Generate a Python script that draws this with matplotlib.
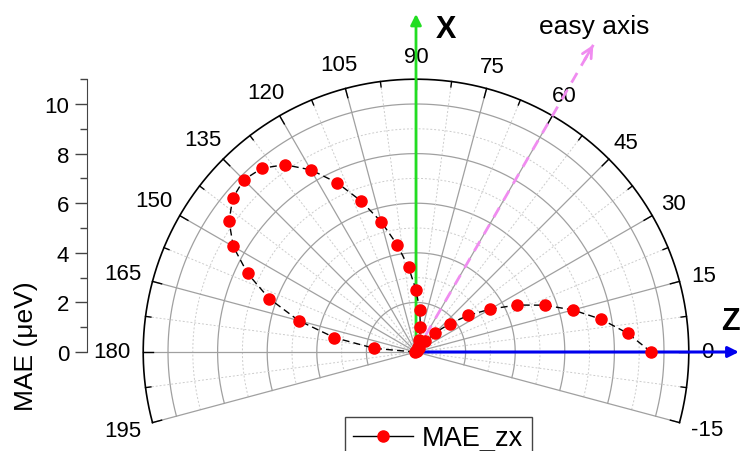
"""
MAE_zx polar plot: magnetic anisotropy energy vs. spin angle in the zx plane
"""
import numpy as np
import matplotlib
matplotlib.use("Agg")
import matplotlib.pyplot as plt
from matplotlib.lines import Line2D

plt.rcParams["font.family"] = ["Liberation Sans", "DejaVu Sans"]

# angle (deg, measured from z towards x) and MAE in micro-eV
angle_deg = [0, 5, 10, 15, 20, 25, 30, 35, 40, 45, 50, 55, 60, 65, 70, 75, 80, 85, 90,
             95, 100, 105, 110, 115, 120, 125, 130, 135, 140, 145, 150, 155, 160, 165,
             170, 175, 180]
mae_zx = [9.48, 8.58, 7.59, 6.55, 5.52, 4.48, 3.46, 2.58, 1.77, 1.11, 0.56, 0.20, 0.03,
          0.05, 0.20, 0.50, 1.03, 1.70, 2.50, 3.43, 4.40, 5.44, 6.48, 7.53, 8.48, 9.22,
          9.67, 9.82, 9.65, 9.20, 8.51, 7.49, 6.30, 4.90, 3.34, 1.69, 0.05]

angle_ticks = [-15, 0, 15, 30, 45, 60, 75, 90, 105, 120, 135, 150, 165, 180, 195]
r_ticks = [0, 2, 4, 6, 8, 10]
easy_axis_deg = 60

r_max = 11.0
theta_min, theta_max = -15, 195


def main():
    fig = plt.figure(figsize=(7.4, 4.52), dpi=100)
    ax = fig.add_axes([0, 0, 1, 1])
    # pole sits at pixel (416, 353), 24.8 px per unit of radius
    ppu = 24.8
    ax.set_xlim(-416 / ppu, (740 - 416) / ppu)
    ax.set_ylim(-99 / ppu, 353 / ppu)
    ax.set_facecolor("white")

    def xy(theta, r):
        t = np.radians(theta)
        return r * np.cos(t), r * np.sin(t)

    arc = np.linspace(theta_min, theta_max, 400)

    # circular grid: solid at even radii, dashed at odd
    for r in range(1, 11):
        x, y = xy(arc, r)
        if r % 2 == 0:
            ax.plot(x, y, color="#a0a0a0", lw=0.9, zorder=1)
        else:
            ax.plot(x, y, color="#cccccc", lw=0.7, ls=(0, (2, 2)), zorder=1)

    # radial grid every 15 deg (solid) and in between (dotted)
    for t in angle_ticks:
        x, y = xy(np.array([t, t]), np.array([0, r_max]))
        ax.plot(x, y, color="#a0a0a0", lw=0.9, zorder=1)
    for t in np.array(angle_ticks[:-1]) + 7.5:
        x, y = xy(np.array([t, t]), np.array([0, r_max]))
        ax.plot(x, y, color="#cccccc", lw=0.7, ls=(0, (2, 2)), zorder=1)

    # outer arc with inward tick marks
    x, y = xy(arc, r_max)
    ax.plot(x, y, color="black", lw=1.2, zorder=2)
    for t in angle_ticks:
        x, y = xy(np.array([t, t]), np.array([r_max - 0.38, r_max]))
        ax.plot(x, y, color="black", lw=1.0, zorder=2)
    for t in np.array(angle_ticks[:-1]) + 7.5:
        x, y = xy(np.array([t, t]), np.array([r_max - 0.22, r_max]))
        ax.plot(x, y, color="black", lw=1.0, zorder=2)

    # angle labels: keep a fixed gap between the arc and each label's box
    renderer = fig.canvas.get_renderer()
    for t in angle_ticks:
        lbl = ax.text(0, 0, str(t), fontsize=16, ha="center", va="center")
        bb = lbl.get_window_extent(renderer)
        c, s = np.cos(np.radians(t)), np.sin(np.radians(t))
        half = 0.5 * (abs(c) * bb.width + abs(s) * bb.height) / ppu
        gap = 11.5 - 0.2 * abs(s * c) * 2
        lbl.set_position(xy(t, gap + half))

    # coordinate axes and easy axis
    ax.annotate("", xy=(0, 13.63), xytext=(0, 0),
                arrowprops=dict(arrowstyle="-|>", color="#22dd22", lw=2,
                                mutation_scale=16, shrinkA=0, shrinkB=0), zorder=3)
    ax.annotate("", xy=(13.02, 0), xytext=(0, 0),
                arrowprops=dict(arrowstyle="-|>", color="#0000ee", lw=2.2,
                                mutation_scale=16, shrinkA=0, shrinkB=0), zorder=3)
    ex, ey = xy(easy_axis_deg, 14.3)
    ax.plot([0, ex], [0, ey], color="#f08cf0", lw=2, ls=(0, (4, 3)), zorder=3)
    hx, hy = xy(easy_axis_deg, 13.6)
    ax.annotate("", xy=(ex, ey), xytext=(hx, hy),
                arrowprops=dict(arrowstyle="->", color="#f08cf0", lw=2,
                                mutation_scale=18, shrinkA=0, shrinkB=0), zorder=3)
    ax.text(1.21, 13.02, "X", fontsize=22, fontweight="bold", ha="center", va="center")
    ax.text(12.66, 1.25, "Z", fontsize=22, fontweight="bold", ha="center", va="center")
    ax.text(7.18, 13.15, "easy axis", fontsize=19, ha="center", va="center")

    # data
    px, py = xy(np.array(angle_deg), np.array(mae_zx))
    ax.plot(px, py, color="black", lw=1.0, ls=(0, (5, 3)), zorder=4)
    ax.plot(px, py, ls="none", marker="o", ms=8, mfc="red", mec="red", zorder=5)

    # radial scale drawn as a detached left axis
    for side in ["top", "right", "bottom"]:
        ax.spines[side].set_visible(False)
    ax.spines["left"].set_position(("data", -13.25))
    ax.spines["left"].set_bounds(0, r_max)
    ax.spines["left"].set_color("#444444")
    ax.set_yticks(r_ticks)
    ax.set_yticks([1, 3, 5, 7, 9, 11], minor=True)
    ax.tick_params(axis="y", which="major", length=9, width=1, labelsize=16,
                   color="#444444", pad=4)
    ax.tick_params(axis="y", which="minor", length=5, width=1, color="#444444")
    ax.set_xticks([])
    ax.set_ylabel("MAE (\u03bceV)", fontsize=19)
    ax.yaxis.set_label_coords(38 / 740, 1 - 346 / 452, transform=fig.transFigure)

    handle = Line2D([], [], color="black", lw=1.0, marker="o", ms=8,
                    mfc="red", mec="red")
    leg = ax.legend([handle], ["MAE_zx"], loc="upper left",
                    bbox_to_anchor=(345 / 740, 1 - 418 / 452),
                    bbox_transform=fig.transFigure, fontsize=19.5,
                    handlelength=2.2, handletextpad=0.35, borderpad=0.3,
                    borderaxespad=0, fancybox=False, framealpha=1)
    leg.get_frame().set_edgecolor("#444444")
    leg.get_frame().set_linewidth(1.0)

    fig.savefig("out.png", dpi=100)


if __name__ == "__main__":
    main()
